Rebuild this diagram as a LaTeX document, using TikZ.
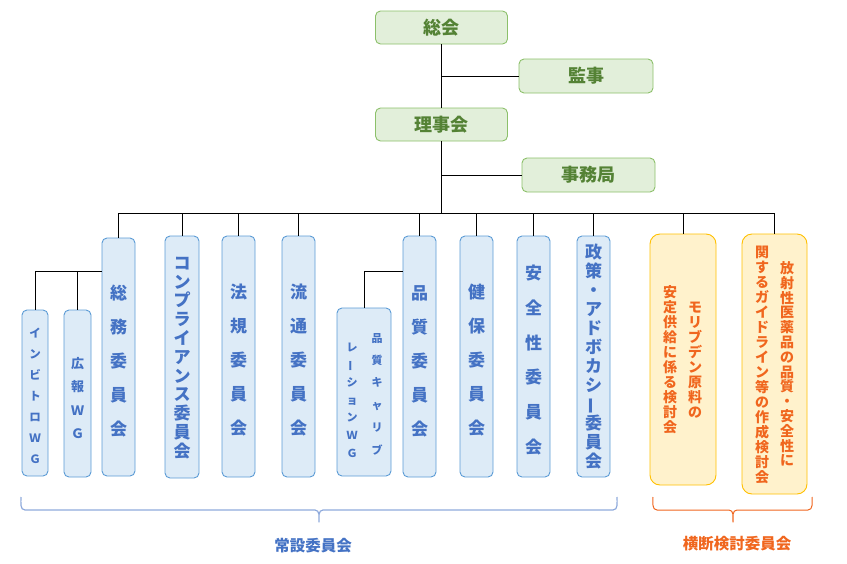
\documentclass[tikz,border=0pt]{standalone}
\usepackage{fontspec}
\usepackage{graphicx}
\setmainfont{Noto Sans CJK JP}
\definecolor{gfill}{HTML}{E2EFDA}
\definecolor{gline}{HTML}{8CC06A}
\definecolor{gtext}{HTML}{548235}
\definecolor{bfill}{HTML}{DDEBF7}
\definecolor{bline}{HTML}{5B9BD5}
\definecolor{btext}{HTML}{4472C4}
\definecolor{bbrace}{HTML}{8FAADC}
\definecolor{ofill}{HTML}{FFF2CC}
\definecolor{oline}{HTML}{FFC000}
\definecolor{otext}{HTML}{F0661E}
\newcommand\vbar{\rotatebox[origin=c]{90}{ー}}
\begin{document}
\begin{tikzpicture}[x=1pt,y=-1pt,
  gbox/.style={draw=gline,fill=gfill,rounded corners=5pt,line width=0.9pt,text=gtext,
    font=\fontsize{18}{20}\selectfont\bfseries,inner sep=0pt},
  bbox/.style={draw=bline,fill=bfill,rounded corners=5pt,line width=0.9pt,inner sep=0pt},
  obox/.style={draw=oline,fill=ofill,rounded corners=10pt,line width=0.9pt,inner sep=0pt},
  otxt/.style={text=otext,align=center,inner sep=0pt},
  btxt/.style={text=btext,align=center,inner sep=0pt},
  conn/.style={draw=black,line width=1pt},
  bracestyle/.style={line width=1.2pt,line join=round}]
\useasboundingbox (0,0) rectangle (847,563);
% top
\node[gbox,minimum width=132,minimum height=33] (soukai) at (441.5,27.5) {総会};
\node[gbox,minimum width=134,minimum height=34] (kanji) at (586,76) {監事};
\node[gbox,minimum width=132,minimum height=33] (rijikai) at (441.5,124.5) {理事会};
\node[gbox,minimum width=133,minimum height=34] (jimu) at (588.5,175) {事務局};
\coordinate (bus) at (441.5,213);
\coordinate (wgy) at (0,271);
% committees
\def\big{\fontsize{17}{34}\selectfont\bfseries}
\node[bbox,minimum width=26,minimum height=166] (invitro) at (35,393) {};
\node[btxt,font=\fontsize{11.5}{21}\selectfont\bfseries] (invitroT) at (35,396) {イ\\ン\\ビ\\ト\\ロ\\Ｗ\\Ｇ};
\node[bbox,minimum width=27,minimum height=167] (kouhou) at (77.5,393.5) {};
\node[btxt,font=\fontsize{13}{23.5}\selectfont\bfseries] (kouhouT) at (77.5,398) {広\\報\\Ｗ\\Ｇ};
\node[bbox,minimum width=33,minimum height=238] (somu) at (118.5,357) {};
\node[btxt,font=\big] (somuT) at (118.5,361) {総\\務\\委\\員\\会};
\node[bbox,minimum width=34,minimum height=242] (comp) at (182,357) {};
\node[btxt,font=\fontsize{17}{18.8}\selectfont\bfseries] (compT) at (182,358) {コ\\ン\\プ\\ラ\\イ\\ア\\ン\\ス\\委\\員\\会};
\node[bbox,minimum width=33,minimum height=241] (houki) at (238.5,356.5) {};
\node[btxt,font=\big] (houkiT) at (238.5,360.5) {法\\規\\委\\員\\会};
\node[bbox,minimum width=33,minimum height=241] (ryutsu) at (298.5,356.5) {};
\node[btxt,font=\big] (ryutsuT) at (298.5,360.5) {流\\通\\委\\員\\会};
\node[bbox,minimum width=54,minimum height=168] (calib) at (364,392) {};
\node[btxt,font=\fontsize{11}{22.4}\selectfont\bfseries] (calibA) at (377,394) {品\\質\\キ\\ャ\\リ\\ブ};
\node[btxt,font=\fontsize{11}{17.7}\selectfont\bfseries] (calibB) at (352,400) {レ\\\vbar\\シ\\ョ\\ン\\Ｗ\\Ｇ};
\node[bbox,minimum width=33,minimum height=241] (hinshitsu) at (419.5,356.5) {};
\node[btxt,font=\big] (hinshitsuT) at (419.5,361) {品\\質\\委\\員\\会};
\node[bbox,minimum width=33,minimum height=241] (kenpo) at (476.5,356.5) {};
\node[btxt,font=\big] (kenpoT) at (476.5,360.5) {健\\保\\委\\員\\会};
\node[bbox,minimum width=33,minimum height=241] (anzen) at (533.5,356.5) {};
\node[btxt,font=\fontsize{17}{34.8}\selectfont\bfseries] (anzenT) at (533.5,360) {安\\全\\性\\委\\員\\会};
\node[bbox,minimum width=33,minimum height=241] (seisaku) at (593.5,356.5) {};
\node[btxt,font=\fontsize{17}{19}\selectfont\bfseries] (seisakuT) at (593.5,356.5) {政\\策\\・\\ア\\ド\\ボ\\カ\\シ\\\vbar\\委\\員\\会};
\node[obox,minimum width=66,minimum height=251] (moly) at (683,359.5) {};
\node[otxt,font=\fontsize{14}{14.9}\selectfont\bfseries] (molyA) at (695,360) {モ\\リ\\ブ\\デ\\ン\\原\\料\\の};
\node[otxt,font=\fontsize{14}{15}\selectfont\bfseries] (molyB) at (670,360) {安\\定\\供\\給\\に\\係\\る\\検\\討\\会};
\node[obox,minimum width=65,minimum height=260] (hosha) at (774.5,364) {};
\node[otxt,font=\fontsize{14}{14.8}\selectfont\bfseries] (hoshaA) at (787,364) {放\\射\\性\\医\\薬\\品\\の\\品\\質\\・\\安\\全\\性\\に};
\node[otxt,font=\fontsize{14}{15}\selectfont\bfseries] (hoshaB) at (762,364.5) {関\\す\\る\\ガ\\イ\\ド\\ラ\\イ\\ン\\等\\の\\作\\成\\検\\討\\会};
% connectors
\draw[conn] (soukai.south) -- (rijikai.north);
\draw[conn] (kanji.west) -- (kanji.west -| soukai.south);
\draw[conn] (rijikai.south) -- (bus);
\draw[conn] (jimu.west) -- (jimu.west -| rijikai.south);
\draw[conn] (somu.north |- bus) -- (hosha.north |- bus);
\foreach \n in {somu,comp,houki,ryutsu,hinshitsu,kenpo,anzen,seisaku,moly,hosha}
  \draw[conn] (\n.north) -- (\n.north |- bus);
\draw[conn] (somu.west |- wgy) -- (invitro.north |- wgy) -- (invitro.north);
\draw[conn] (kouhou.north) -- (kouhou.north |- wgy);
\draw[conn] (hinshitsu.west |- wgy) -- (calib.north |- wgy) -- (calib.north);
% braces
\draw[bracestyle,draw=bbrace] (21,497) to[out=-90,in=180] (25,510) -- (315,510)
  to[out=0,in=90] (319,522) to[out=90,in=180] (323,510) -- (613,510) to[out=0,in=-90] (617,497);
\draw[bracestyle,draw=otext,line width=1pt] (653,497) to[out=-90,in=180] (657,510) -- (729,510)
  to[out=0,in=90] (733,522) to[out=90,in=180] (737,510) -- (808,510) to[out=0,in=-90] (812,497);
\node[text=btext,font=\fontsize{15.5}{17}\selectfont\bfseries,inner sep=0pt] (joset) at (313,546) {常設委員会};
\node[text=otext,font=\fontsize{15.5}{17}\selectfont\bfseries,inner sep=0pt] (oudan) at (737,544) {横断検討委員会};
\end{tikzpicture}
\end{document}
